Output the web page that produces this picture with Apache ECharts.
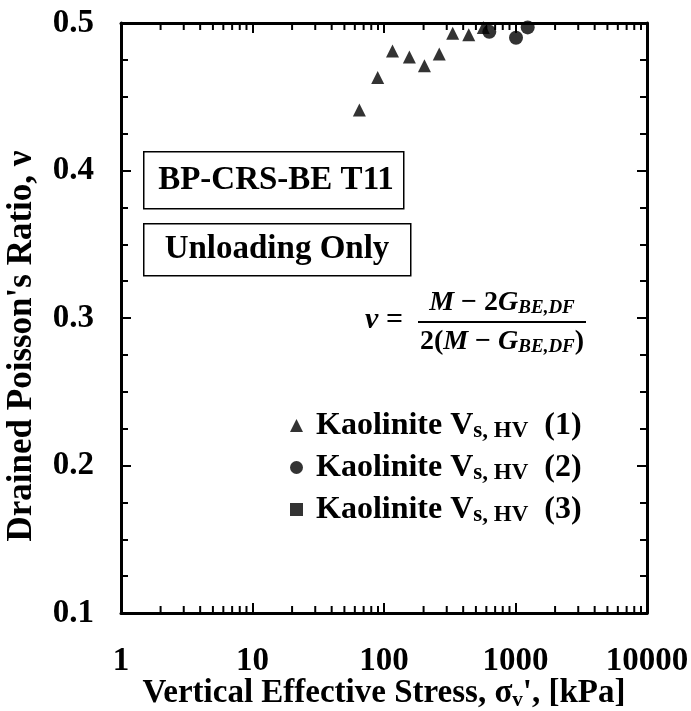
<!DOCTYPE html>
<html>
<head>
<meta charset="utf-8">
<script src="https://cdn.jsdelivr.net/npm/echarts@6/dist/echarts.min.js"></script>
<style>
  html, body { margin: 0; padding: 0; background: #fff; }
  #chart { width: 691px; height: 711px; }
</style>
</head>
<body>
<div id="chart"></div>
<script>
// stress [kPa] and drained Poisson's ratio
var stress1 = [65, 89.5, 116, 156, 203, 263, 333, 441, 569];
var nu1     = [0.441, 0.463, 0.481, 0.477, 0.471, 0.479, 0.493, 0.492, 0.497];
var stress2 = [632, 1009, 1238];
var nu2     = [0.494, 0.490, 0.497];
var stress3 = [];
var nu3     = [];

var legendTags = ['(1)', '(2)', '(3)'];
var xTickLabels = ['1', '10', '100', '1000', '10000'];
var yTickLabels = ['0.1', '0.2', '0.3', '0.4', '0.5'];

// minor ticks of the log axis (2..9 in each decade)
var decades = [1, 10, 100, 1000];
var minorSteps = [2, 3, 4, 5, 6, 7, 8, 9];
var minorTicks = [];
decades.forEach(function (d) {
    minorSteps.forEach(function (m) { minorTicks.push([d * m]); });
});

function pairs(xs, ys) {
    return xs.map(function (x, i) { return [x, ys[i]]; });
}

var FONT = "'Liberation Serif', 'Times New Roman', serif";
var BLACK = '#000';

var axisBase = {
    axisLine: { show: true, onZero: false, lineStyle: { color: BLACK, width: 3 } },
    axisTick: { show: true, inside: true, length: 10, lineStyle: { color: BLACK, width: 2 } },
    splitLine: { show: false }
};

var names = ['s1', 's2', 's3'];

var mathRich = {
    i: { font: 'italic bold 28px ' + FONT, fill: BLACK },
    n: { font: 'bold 28px ' + FONT, fill: BLACK },
    s: { font: 'italic bold 19px ' + FONT, fill: BLACK, padding: [11, 0, 0, 0] }
};

var option = {
    backgroundColor: '#fff',
    animation: false,
    grid: { left: 121, right: 44, top: 23, bottom: 98, outerBoundsMode: 'none', containLabel: false },
    legend: {
        orient: 'vertical',
        left: 285,
        top: 403,
        itemWidth: 13,
        itemHeight: 13,
        itemGap: 7,
        data: [
            { name: 's1', icon: 'triangle' },
            { name: 's2', icon: 'circle' },
            { name: 's3', icon: 'rect' }
        ],
        formatter: function (name) {
            var i = names.indexOf(name);
            return ' Kaolinite V{sub|s, HV} ' + legendTags[i];
        },
        textStyle: {
            fontFamily: FONT,
            fontWeight: 'bold',
            fontSize: 32,
            lineHeight: 34,
            color: BLACK,
            rich: {
                sub: {
                    fontFamily: FONT,
                    fontWeight: 'bold',
                    fontSize: 23,
                    lineHeight: 22,
                    color: BLACK,
                    padding: [12, 8, 0, 0]
                }
            }
        }
    },
    xAxis: [
        Object.assign({}, axisBase, {
            type: 'log',
            logBase: 10,
            min: 1,
            max: 10000,
            position: 'bottom',
            name: 'Vertical Effective Stress, σ{sub|v}\', [kPa]',
            nameLocation: 'middle',
            nameMoveOverlap: false,
            nameGap: 63,
            nameTextStyle: {
                fontFamily: FONT, fontWeight: 'bold', fontSize: 33, color: BLACK,
                rich: { sub: { fontFamily: FONT, fontWeight: 'bold', fontSize: 21, color: BLACK, padding: [14, 0, 0, 0] } }
            },
            axisLabel: {
                margin: 32,
                fontFamily: FONT, fontWeight: 'bold', fontSize: 33, color: BLACK,
                formatter: function (v) {
                    var k = Math.round(Math.log(v) / Math.LN10);
                    return xTickLabels[k];
                }
            }
        }),
        Object.assign({}, axisBase, {
            type: 'log',
            logBase: 10,
            min: 1,
            max: 10000,
            position: 'top',
            axisLabel: { show: false }
        })
    ],
    yAxis: [
        Object.assign({}, axisBase, {
            type: 'value',
            min: 0.1,
            max: 0.5,
            interval: 0.1,
            position: 'left',
            minorTick: { show: true, splitNumber: 4, length: 7, lineStyle: { color: BLACK, width: 2 } },
            name: 'Drained Poisson\'s Ratio, ν',
            nameLocation: 'middle',
            nameMoveOverlap: false,
            nameGap: 82,
            nameTextStyle: { fontFamily: FONT, fontWeight: 'bold', fontSize: 35, color: BLACK, padding: [0, 56, 0, 0] },
            axisLabel: {
                margin: 27,
                fontFamily: FONT, fontWeight: 'bold', fontSize: 33, color: BLACK,
                formatter: function (v) {
                    return yTickLabels[Math.round((v - 0.1) / 0.1)];
                }
            }
        }),
        Object.assign({}, axisBase, {
            type: 'value',
            min: 0.1,
            max: 0.5,
            interval: 0.1,
            position: 'right',
            minorTick: { show: true, splitNumber: 4, length: 7, lineStyle: { color: BLACK, width: 2 } },
            axisLabel: { show: false }
        })
    ],
    graphic: [
        { type: 'rect', left: 143, top: 151, shape: { width: 260, height: 57 },
          style: { fill: '#fff', stroke: BLACK, lineWidth: 1.5 } },
        { type: 'text', x: 276, y: 180,
          style: { text: 'BP-CRS-BE T11', font: 'bold 33px ' + FONT, fill: BLACK, align: 'center', verticalAlign: 'middle' } },
        { type: 'rect', left: 143, top: 223, shape: { width: 267, height: 52 },
          style: { fill: '#fff', stroke: BLACK, lineWidth: 1.5 } },
        { type: 'text', x: 277, y: 249,
          style: { text: 'Unloading Only', font: 'bold 33px ' + FONT, fill: BLACK, align: 'center', verticalAlign: 'middle' } },
        // formula
        { type: 'text', x: 384, y: 320,
          style: { text: 'ν =', font: 'italic bold 30px ' + FONT, fill: BLACK, align: 'center', verticalAlign: 'middle' } },
        { type: 'line', shape: { x1: 418, y1: 322, x2: 586, y2: 322 }, style: { stroke: BLACK, lineWidth: 2 } },
        { type: 'text', x: 502, y: 303,
          style: {
              text: '{i|M}{n| − 2}{i|G}{s|BE,DF}',
              fill: BLACK, align: 'center', verticalAlign: 'middle', rich: mathRich
          } },
        { type: 'text', x: 502, y: 342,
          style: {
              text: '{n|2(}{i|M}{n| − }{i|G}{s|BE,DF}{n|)}',
              fill: BLACK, align: 'center', verticalAlign: 'middle', rich: mathRich
          } }
    ],
    series: [
        {
            type: 'custom',
            silent: true,
            clip: false,
            xAxisIndex: 0,
            yAxisIndex: 0,
            data: minorTicks,
            encode: { x: 0 },
            renderItem: function (params, api) {
                var v = api.value(0);
                var b = api.coord([v, 0.1]);
                var t = api.coord([v, 0.5]);
                var st = { stroke: BLACK, lineWidth: 2 };
                return {
                    type: 'group',
                    children: [
                        { type: 'line', shape: { x1: b[0], y1: b[1], x2: b[0], y2: b[1] - 7 }, style: st },
                        { type: 'line', shape: { x1: t[0], y1: t[1], x2: t[0], y2: t[1] + 7 }, style: st }
                    ]
                };
            }
        },
        {
            name: 's1', type: 'scatter', symbol: 'triangle', symbolSize: 13,
            itemStyle: { color: BLACK }, data: pairs(stress1, nu1), z: 3
        },
        {
            name: 's2', type: 'scatter', symbol: 'circle', symbolSize: 14,
            itemStyle: { color: BLACK }, data: pairs(stress2, nu2), z: 4
        },
        {
            name: 's3', type: 'scatter', symbol: 'rect', symbolSize: 12,
            itemStyle: { color: BLACK }, data: pairs(stress3, nu3), z: 5
        }
    ]
};

var chart = echarts.init(document.getElementById('chart'));
chart.setOption(option);
</script>
</body>
</html>
